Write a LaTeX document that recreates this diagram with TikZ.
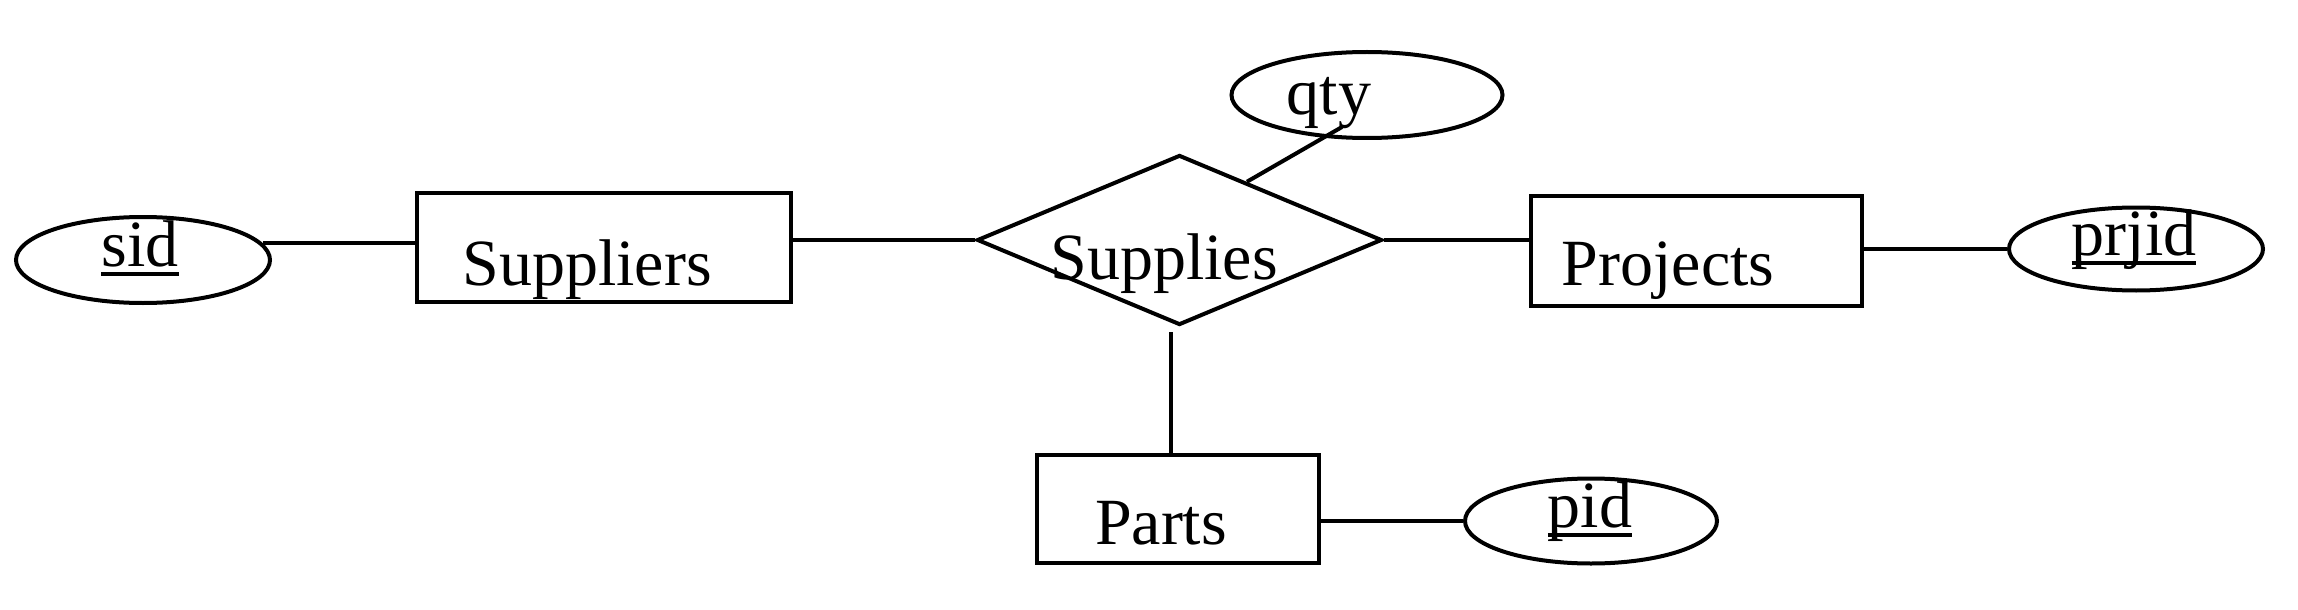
\documentclass[tikz,border=0pt]{standalone}
\usepackage{fontspec}
\setmainfont{Liberation Serif}
\usetikzlibrary{shapes.geometric,calc}
\newcommand{\keyattr}[1]{\setbox0\hbox{#1}\rlap{\rule[-4.5pt]{\wd0}{2pt}}\box0}

\begin{document}
\begin{tikzpicture}[x=0.5pt,y=-0.5pt,line width=2pt,
        every node/.style={font=\fontsize{33pt}{40pt}\selectfont},
        entity/.style={draw,rectangle,inner sep=0pt},
        attr/.style={draw,ellipse,inner sep=0pt},
        rel/.style={draw,diamond,inner sep=0pt,aspect=2.4},
        lbl/.style={inner sep=0pt,text height=23pt,text depth=7.26pt}]
    \useasboundingbox (0,0) rectangle (2298,610);
    \node[rel,minimum width=202.5pt,minimum height=85pt,
          label={[lbl,shift={(-15.5,24)}]center:Supplies}] (supplies) at (1179.5,240) {};
    \node[entity,minimum width=187pt,minimum height=54.5pt,
          label={[lbl,shift={(-17,22.5)}]center:Suppliers}] (suppliers) at (604,247.5) {};
    \node[entity,minimum width=165.5pt,minimum height=55pt,
          label={[lbl,shift={(-28.5,19)}]center:Projects}] (projects) at (1696.5,251) {};
    \node[entity,minimum width=141pt,minimum height=54pt,
          label={[lbl,shift={(-17,20)}]center:Parts}] (parts) at (1178,509) {};
    \node[attr,minimum width=127pt,minimum height=43pt,
          label={[lbl,shift={(-3,-9)}]center:\keyattr{sid}}] (sid) at (143,260) {};
    \node[attr,minimum width=135.5pt,minimum height=43pt,
          label={[lbl,shift={(-38,4)}]center:qty}] (qty) at (1367,95) {};
    \node[attr,minimum width=127pt,minimum height=41.5pt,
          label={[lbl,shift={(-2,-9)}]center:\keyattr{prjid}}] (prjid) at (2136,249) {};
    \node[attr,minimum width=126pt,minimum height=42.5pt,
          label={[lbl,shift={(-1,-9)}]center:\keyattr{pid}}] (pid) at (1591,521) {};

    \draw (sid.8) -- (sid.8 -| suppliers.west);
    \draw (supplies.west -| suppliers.east) -- (supplies.west);
    \draw (supplies.east) -- (supplies.east -| projects.west);
    \draw (prjid.west -| projects.east) -- (prjid.west);
    \draw ([shift={(-9,5)}]supplies.south) -- ([xshift=-4.5pt]supplies.south |- parts.north);
    \draw (pid.west -| parts.east) -- (pid.west);
    \draw ($(qty.center)+(-25,32)$) -- ($(supplies.north)!0.33!(supplies.east)$);
\end{tikzpicture}
\end{document}
